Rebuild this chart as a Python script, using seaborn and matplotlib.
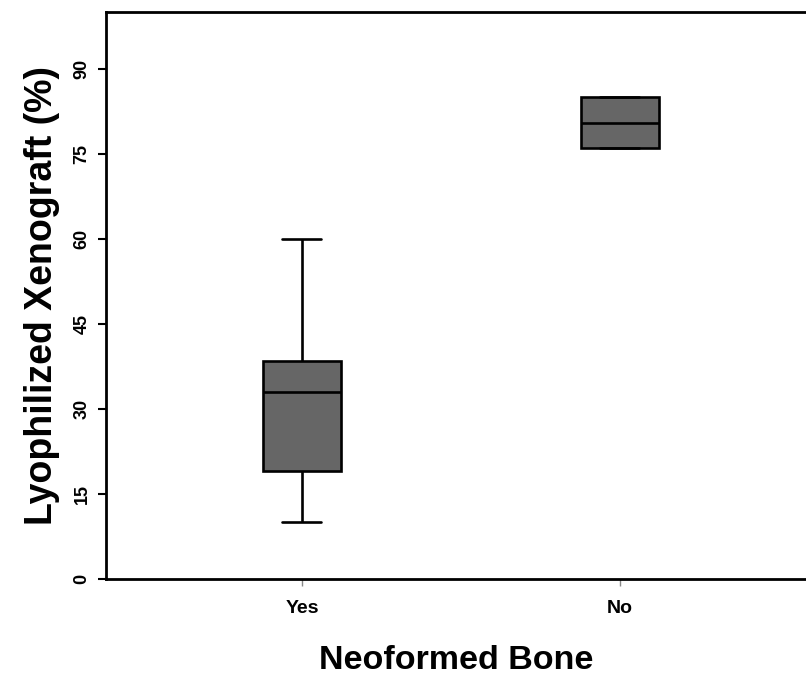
import matplotlib
matplotlib.use("Agg")
import matplotlib.pyplot as plt
import seaborn as sns
import pandas as pd

# Observations per group (five-number summaries: min, Q1, median, Q3, max)
groups = ["Yes", "No"]
yes_values = [10, 19, 33, 38.5, 60]
no_values = [76, 76, 80.5, 85, 85]
y_ticks = [0, 15, 30, 45, 60, 75, 90]

df = pd.DataFrame({
    "Neoformed Bone": ["Yes"] * len(yes_values) + ["No"] * len(no_values),
    "Lyophilized Xenograft (%)": yes_values + no_values,
})

sns.set_theme(style="white")
plt.rcParams["font.family"] = ["Liberation Sans", "DejaVu Sans"]
plt.rcParams["font.weight"] = "bold"
plt.rcParams["text.color"] = "black"
plt.rcParams["axes.labelcolor"] = "black"
plt.rcParams["xtick.color"] = "black"
plt.rcParams["ytick.color"] = "black"

fig = plt.figure(figsize=(8.06, 6.76), dpi=100)
ax = fig.add_axes([106 / 806, 97 / 676, 700 / 806, 567 / 676])

sns.boxplot(
    data=df, x="Neoformed Bone", y="Lyophilized Xenograft (%)",
    order=groups, color="#666666", saturation=1, width=0.245,
    whis=(0, 100), linecolor="black", linewidth=1.9, ax=ax,
)

ax.set_xlim(-0.616, 1.585)
ax.set_ylim(0, 100)
ax.set_yticks(y_ticks)
ax.set_yticklabels([str(t) for t in y_ticks], rotation=90, va="center",
                   fontsize=13, fontweight="bold")
ax.set_xticks(range(len(groups)))
ax.set_xticklabels(groups, fontsize=14, fontweight="bold")

ax.tick_params(axis="y", left=True, length=6, width=1.5, color="black", pad=5)
ax.tick_params(axis="x", bottom=True, length=5, width=1.0, color="#888888", pad=10)

for side in ["left", "bottom", "top"]:
    ax.spines[side].set_visible(True)
    ax.spines[side].set_color("black")
    ax.spines[side].set_linewidth(2.0)
ax.spines["right"].set_visible(False)

ax.set_xlabel("Neoformed Bone", fontsize=24.5, fontweight="bold", labelpad=20)
ax.set_ylabel("Lyophilized Xenograft (%)", fontsize=27, fontweight="bold", labelpad=10)

fig.savefig("out.png", dpi=100)
